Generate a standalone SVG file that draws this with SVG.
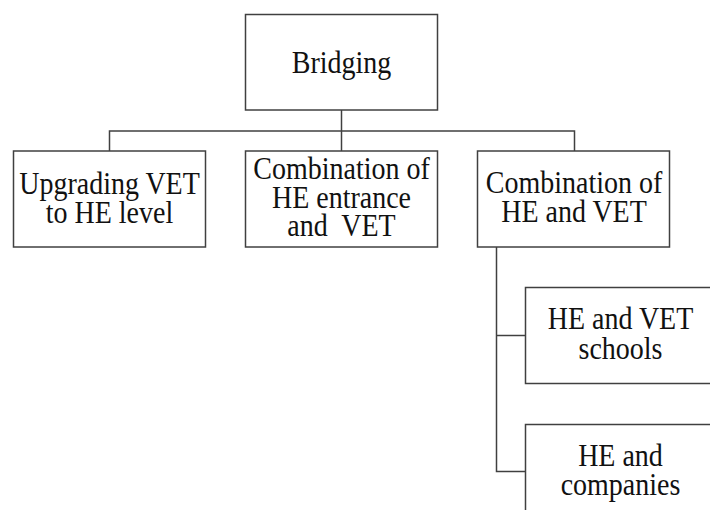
<svg xmlns="http://www.w3.org/2000/svg" width="710" height="510" viewBox="0 0 710 510">
<style>
.box{fill:#fff;stroke:#404040;stroke-width:1.5}
.conn{fill:none;stroke:#404040;stroke-width:1.5}
text{font-family:"Liberation Serif","Times New Roman",serif;font-size:28px;fill:#111;text-anchor:middle}
</style>
<rect width="710" height="510" fill="#fff"/>
<g id="connectors">
<line class="conn" x1="341.5" y1="110" x2="341.5" y2="151"/>
<polyline class="conn" points="109.5,151 109.5,131 574.5,131 574.5,151"/>
<polyline class="conn" points="496.5,247 496.5,471.5 525.5,471.5"/>
<line class="conn" x1="496.5" y1="335.5" x2="525.5" y2="335.5"/>
</g>
<g id="bridging">
<rect class="box" x="245.5" y="14.5" width="192" height="95.5"/>
<text transform="translate(341.5,73) scale(1,1.09)">Bridging</text>
</g>
<g id="upgrading">
<rect class="box" x="13.5" y="151" width="192" height="96"/>
<text transform="translate(109.5,193.5) scale(1,1.09)">Upgrading VET</text>
<text transform="translate(109.5,223) scale(1,1.09)">to HE level</text>
</g>
<g id="combination-entrance">
<rect class="box" x="245.5" y="151" width="192" height="96"/>
<text transform="translate(341.5,179.3) scale(1,1.09)">Combination of</text>
<text transform="translate(341.5,208) scale(1,1.09)">HE entrance</text>
<text transform="translate(341.5,236.3) scale(1,1.09)" xml:space="preserve">and  VET</text>
</g>
<g id="combination-he-vet">
<rect class="box" x="477.5" y="151" width="192" height="96"/>
<text transform="translate(574,192.5) scale(1,1.09)">Combination of</text>
<text transform="translate(574,222) scale(1,1.09)">HE and VET</text>
</g>
<g id="schools">
<rect class="box" x="525.5" y="287.5" width="192" height="96"/>
<text transform="translate(620.5,329) scale(1,1.09)">HE and VET</text>
<text transform="translate(620.5,358.5) scale(1,1.09)">schools</text>
</g>
<g id="companies">
<rect class="box" x="525.5" y="424.5" width="192" height="96"/>
<text transform="translate(620.5,465.5) scale(1,1.09)">HE and</text>
<text transform="translate(620.5,495) scale(1,1.09)">companies</text>
</g>
</svg>
